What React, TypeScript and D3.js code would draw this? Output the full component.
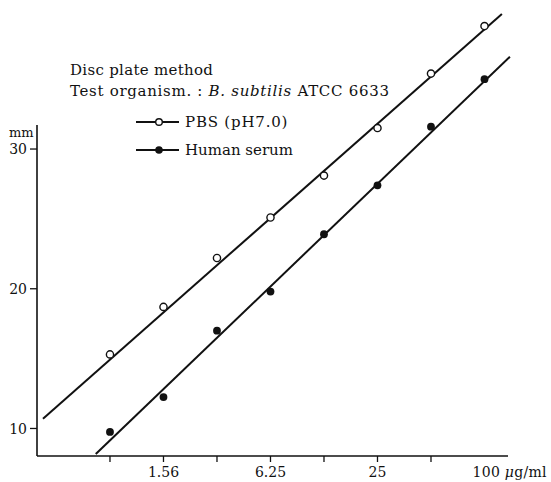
import React from "react";
import * as d3 from "d3";

const concentrations = [0.78125, 1.5625, 3.125, 6.25, 12.5, 25, 50, 100];
const pbsValues = [15.3, 18.7, 22.2, 25.1, 28.1, 31.5, 35.4, 38.8];
const serumValues = [9.75, 12.25, 17.0, 19.8, 23.9, 27.4, 31.6, 35.0];

// fitted lines (endpoints)
const pbsLineConc = [0.328, 125.3];
const pbsLineVals = [10.7, 39.67];
const serumLineConc = [0.65, 139];
const serumLineVals = [8.17, 36.6];

const xTickValues = [0.78125, 1.5625, 3.125, 6.25, 12.5, 25, 50];
const xLabelValues = [1.5625, 6.25, 25];
const xLabelTexts = ["1.56", "6.25", "25"];
const yTickValues = [10, 20, 30];

const FONT = "'DejaVu Serif', 'Liberation Serif', serif";

export default function App() {
  const W = 551, H = 482;
  const x = d3.scaleLog().base(2).domain([0.3035, 135.6]).range([37, 508]);
  const y = d3.scaleLinear().domain([8.03, 31.72]).range([456, 125]);
  const x0 = x.range()[0], x1 = x.range()[1];
  const yb = y.range()[0], yt = y.range()[1];

  const line = d3.line<[number, number]>().x(d => x(d[0])).y(d => y(d[1]));
  const pbsLine = line(pbsLineConc.map((c, i) => [c, pbsLineVals[i]]) as [number, number][]);
  const serumLine = line(serumLineConc.map((c, i) => [c, serumLineVals[i]]) as [number, number][]);

  return (
    <svg width={W} height={H} style={{ position: "absolute", left: 0, top: 0, background: "#fff" }} fontFamily={FONT}>
      <rect x={0} y={0} width={W} height={H} fill="#fff" />
      {/* axes */}
      <line x1={x0} x2={x0} y1={yt} y2={yb} stroke="#111" strokeWidth={1.6} />
      <line x1={x0} x2={x1} y1={yb} y2={yb} stroke="#111" strokeWidth={1.6} />
      {yTickValues.map(v => (
        <g key={v}>
          <line x1={x0 - 7} x2={x0} y1={y(v)} y2={y(v)} stroke="#111" strokeWidth={1.3} />
          <text x={x0 - 10} y={y(v)} dy="0.36em" textAnchor="end" fontSize={14} fill="#111">{v}</text>
        </g>
      ))}
      <text x={x0 - 28} y={y(30) - 12} fontSize={13} fill="#111">mm</text>
      {xTickValues.map(v => (
        <line key={v} x1={x(v)} x2={x(v)} y1={yb} y2={yb + 6} stroke="#111" strokeWidth={1.3} />
      ))}
      {xLabelValues.map((v, i) => (
        <text key={v} x={x(v)} y={yb + 21} textAnchor="middle" fontSize={14} fill="#111">{xLabelTexts[i]}</text>
      ))}
      <text x={x(100) - 12} y={yb + 21} fontSize={14} fill="#111" letterSpacing={0.3}>
        100 <tspan fontStyle="italic">μ</tspan>g/ml
      </text>

      {/* lines */}
      <path d={pbsLine || ""} fill="none" stroke="#111" strokeWidth={2} />
      <path d={serumLine || ""} fill="none" stroke="#111" strokeWidth={2} />

      {/* points */}
      {concentrations.map((c, i) => (
        <circle key={"p" + i} cx={x(c)} cy={y(pbsValues[i])} r={3.6} fill="#fff" stroke="#111" strokeWidth={1.4} />
      ))}
      {concentrations.map((c, i) => (
        <circle key={"s" + i} cx={x(c)} cy={y(serumValues[i])} r={3.9} fill="#111" />
      ))}

      {/* title */}
      <text x={70} y={75} fontSize={15} fill="#111" letterSpacing={0.3}>Disc plate method</text>
      <text x={70} y={96} fontSize={15} fill="#111" letterSpacing={0.7}>
        Test organism. : <tspan fontStyle="italic">B. subtilis</tspan> ATCC 6633
      </text>

      {/* legend */}
      <line x1={136} x2={179} y1={122} y2={122} stroke="#111" strokeWidth={2} />
      <circle cx={159} cy={122} r={3.3} fill="#fff" stroke="#111" strokeWidth={1.4} />
      <text x={185} y={122} dy="0.36em" fontSize={15} fill="#111" letterSpacing={0.8}>PBS (pH7.0)</text>
      <line x1={136} x2={179} y1={150} y2={150} stroke="#111" strokeWidth={2} />
      <circle cx={159} cy={150} r={3.8} fill="#111" />
      <text x={185} y={150} dy="0.36em" fontSize={15} fill="#111" letterSpacing={0}>Human serum</text>
    </svg>
  );
}
